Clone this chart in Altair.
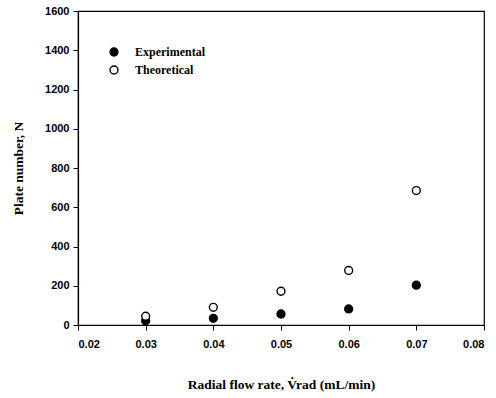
import altair as alt
import pandas as pd

flow_rate = [0.03, 0.04, 0.05, 0.06, 0.07]
experimental = [22, 34, 56, 82, 203]
theoretical = [45, 90, 172, 278, 685]

df = pd.DataFrame({
    "rate": flow_rate * 2,
    "N": experimental + theoretical,
    "series": ["Experimental"] * 5 + ["Theoretical"] * 5,
})

x_ticks = [0.02, 0.03, 0.04, 0.05, 0.06, 0.07, 0.08]
y_ticks = [0, 200, 400, 600, 800, 1000, 1200, 1400, 1600]

points = alt.Chart(df).mark_point(filled=False, size=62, strokeWidth=1.4, opacity=1).encode(
    x=alt.X("rate:Q", scale=alt.Scale(domain=[0.02, 0.08], nice=False, zero=False),
            axis=alt.Axis(values=x_ticks, format=".2f",
                          title="Radial flow rate,  V\u0307rad (mL/min)",
                          titlePadding=28)),
    y=alt.Y("N:Q", scale=alt.Scale(domain=[0, 1600], nice=False),
            axis=alt.Axis(values=y_ticks, format="d", title="Plate number, N",
                          titlePadding=19)),
    fill=alt.Fill("series:N",
                  scale=alt.Scale(domain=["Experimental", "Theoretical"], range=["black", "white"]),
                  legend=alt.Legend(title=None, orient="none", legendX=30, legendY=35,
                                    symbolSize=62, symbolStrokeColor="black", symbolStrokeWidth=1.4,
                                    labelFont="Liberation Serif", labelFontWeight="bold",
                                    labelFontSize=12, labelOffset=15, rowPadding=4)),
    shape=alt.value("circle"),
    stroke=alt.value("black"),
)

chart = points.properties(
    width=406, height=314,
    padding={"left": 78, "top": 11, "right": 12, "bottom": 73},
    autosize=alt.AutoSizeParams(type="none"),
).configure_view(
    stroke="black", strokeWidth=1.2
).configure_axis(
    grid=False, domainColor="black", domainWidth=1.2, tickColor="black", tickSize=5,
    labelFont="Liberation Sans", labelFontSize=11, labelFontWeight="bold",
    labelColor="black", labelPadding=4,
    titleFont="Liberation Serif", titleFontWeight="bold", titleFontSize=13.5, titleColor="black",
).configure_axisX(labelPadding=8)

chart.save("out.html", embed_options={"renderer": "svg", "actions": False})
